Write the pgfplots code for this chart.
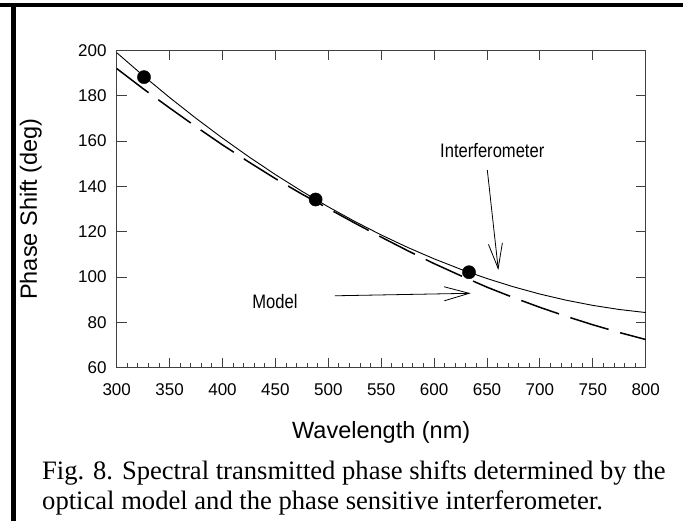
\documentclass[border=0pt]{standalone}
\usepackage{fontspec}
\setmainfont{Liberation Serif}
\newfontfamily\arial{Liberation Sans}
\usepackage{pgfplots}
\pgfplotsset{compat=1.18}
\usetikzlibrary{arrows.meta}

\begin{document}
\begin{tikzpicture}
\useasboundingbox (0bp,0bp) rectangle (683bp,-521bp);
\fill[black] (0bp,-2.7bp) rectangle (683bp,-7.3bp);
\fill[black] (11bp,-5bp) rectangle (15.5bp,-521bp);
% top ticks only
\begin{axis}[
  at={(116.7bp,-367.6bp)}, anchor=south west,
  scale only axis, width=529bp, height=317.2bp,
  xmin=300, xmax=800, ymin=60, ymax=200,
  axis line style={draw=none},
  tick align=inside,
  xtick={300,350,...,800}, xtick pos=top, xticklabel=\empty,
  ytick=\empty,
  major tick length=10bp,
  tick style={black!75, line width=0.9bp},
]
\end{axis}
\begin{axis}[
  at={(116.7bp,-367.6bp)}, anchor=south west,
  scale only axis, width=529bp, height=317.2bp,
  xmin=300, xmax=800, ymin=60, ymax=200,
  axis line style={black!75, line width=1.3bp},
  tick align=inside,
  xtick={300,350,...,800}, minor x tick num=4, xtick pos=bottom,
  ytick={60,80,...,200}, ytick pos=both,
  major tick length=10bp, minor tick length=5bp,
  tick style={black!75, line width=0.9bp},
  /pgf/number format/assume math mode=true,
  ticklabel style={font=\arial\fontsize{17bp}{20bp}\selectfont, inner sep=0pt},
  xticklabel style={anchor=north, yshift=-16bp},
  yticklabel style={anchor=east, xshift=-10bp},
  xlabel={Wavelength (nm)}, ylabel={Phase Shift (deg)},
  label style={font=\arial\fontsize{23.5bp}{28bp}\selectfont},
  xlabel style={at={(axis description cs:0.5,-0.2049)}, anchor=center},
  ylabel style={at={(axis description cs:-0.1626,0.5)}, anchor=center},
]
% interferometer curve
\addplot[black, line width=0.9bp] coordinates {
(300,199.0) (325,188.88) (350,179.21) (375,170.02) (400,161.28) (425,153.01)
(450,145.19) (475,137.85) (500,130.95) (525,124.53) (550,118.55) (575,113.05)
(600,108.01) (625,103.43) (650,99.31) (675,95.66) (700,92.46) (725,89.73)
(750,87.46) (775,85.65) (800,84.3)};
% model curve
\addplot[black, line width=1.5bp, dash pattern=on 40bp off 12bp] coordinates {
(300,192.0) (325,183.1) (350,174.6) (375,166.3) (400,158.3) (425,150.7)
(450,143.4) (475,136.6) (500,130.2) (525,123.8) (550,117.6) (575,111.6)
(600,105.9) (625,100.6) (650,95.5) (675,90.9) (700,86.6) (725,82.6)
(750,78.9) (775,75.5) (800,72.4)};
% measured points
\addplot[only marks, mark=*, mark size=6.6bp, black] coordinates {
(325.8,188.2) (488,134.2) (633,102.1)};
\draw[line width=0.8bp, -{Straight Barb[length=25bp,width=14bp]}] (axis cs:650.3,147.2) -- (axis cs:660.7,103.1);
\draw[line width=0.8bp, -{Straight Barb[length=25bp,width=14bp]}] (axis cs:506.3,91.7) -- (axis cs:634.6,92.8);
\node[font=\arial\fontsize{19.5bp}{22bp}\selectfont, inner sep=0pt] at (axis cs:655,156) {\scalebox{0.85}[1]{Interferometer}};
\node[font=\arial\fontsize{19.5bp}{22bp}\selectfont, inner sep=0pt] at (axis cs:449.5,89.2) {\scalebox{0.85}[1]{Model}};
\end{axis}
\node[anchor=base west, inner sep=0pt, font=\fontsize{26.6bp}{30bp}\selectfont] at (42bp,-479bp) {Fig. 8. Spectral transmitted phase shifts determined by the};
\node[anchor=base west, inner sep=0pt, font=\fontsize{26.6bp}{30bp}\selectfont] at (42bp,-509bp) {optical model and the phase sensitive interferometer.};
\end{tikzpicture}
\end{document}
